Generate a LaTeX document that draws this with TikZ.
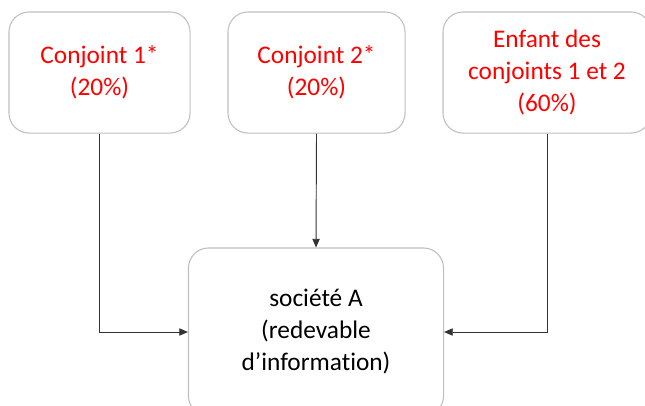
\documentclass[tikz,border=0pt]{standalone}
\usepackage{fontspec}
\setmainfont{Carlito}[Ligatures=NoCommon]
\usetikzlibrary{arrows.meta}

\begin{document}
\begin{tikzpicture}[x=0.75pt,y=-0.75pt,
  box/.style={draw=black!25,line width=0.8pt,rounded corners=15pt,align=center,
    font=\fontsize{19}{24}\selectfont},
  link/.style={draw=black!80,line width=0.7pt,-{Triangle[length=6.5pt,width=5.5pt]}}]
\useasboundingbox (0,0) rectangle (645,405);

\node[box,text=red,minimum width=135.8pt,minimum height=90.8pt] (conj1) at (99.5,72.5) {Conjoint 1*\\(20\%)};
\node[box,text=red,minimum width=132.8pt,minimum height=90.8pt] (conj2) at (316.5,72.5) {Conjoint 2*\\(20\%)};
\node[box,text=red,minimum width=156pt,minimum height=90.8pt] (enfant) at (547,72.5) {Enfant des\\conjoints 1 et 2\\(60\%)};

\node[box,minimum width=191.3pt,minimum height=126pt] (societe) at (316,332) {soci\'et\'e A\\(redevable\\d’informat\kern0pt ion)};

\draw[link] (conj1.south) |- (societe.west);
\draw[link] (conj2.south) -- (societe.north);
\draw[link] (enfant.south) |- (societe.east);
\end{tikzpicture}
\end{document}
